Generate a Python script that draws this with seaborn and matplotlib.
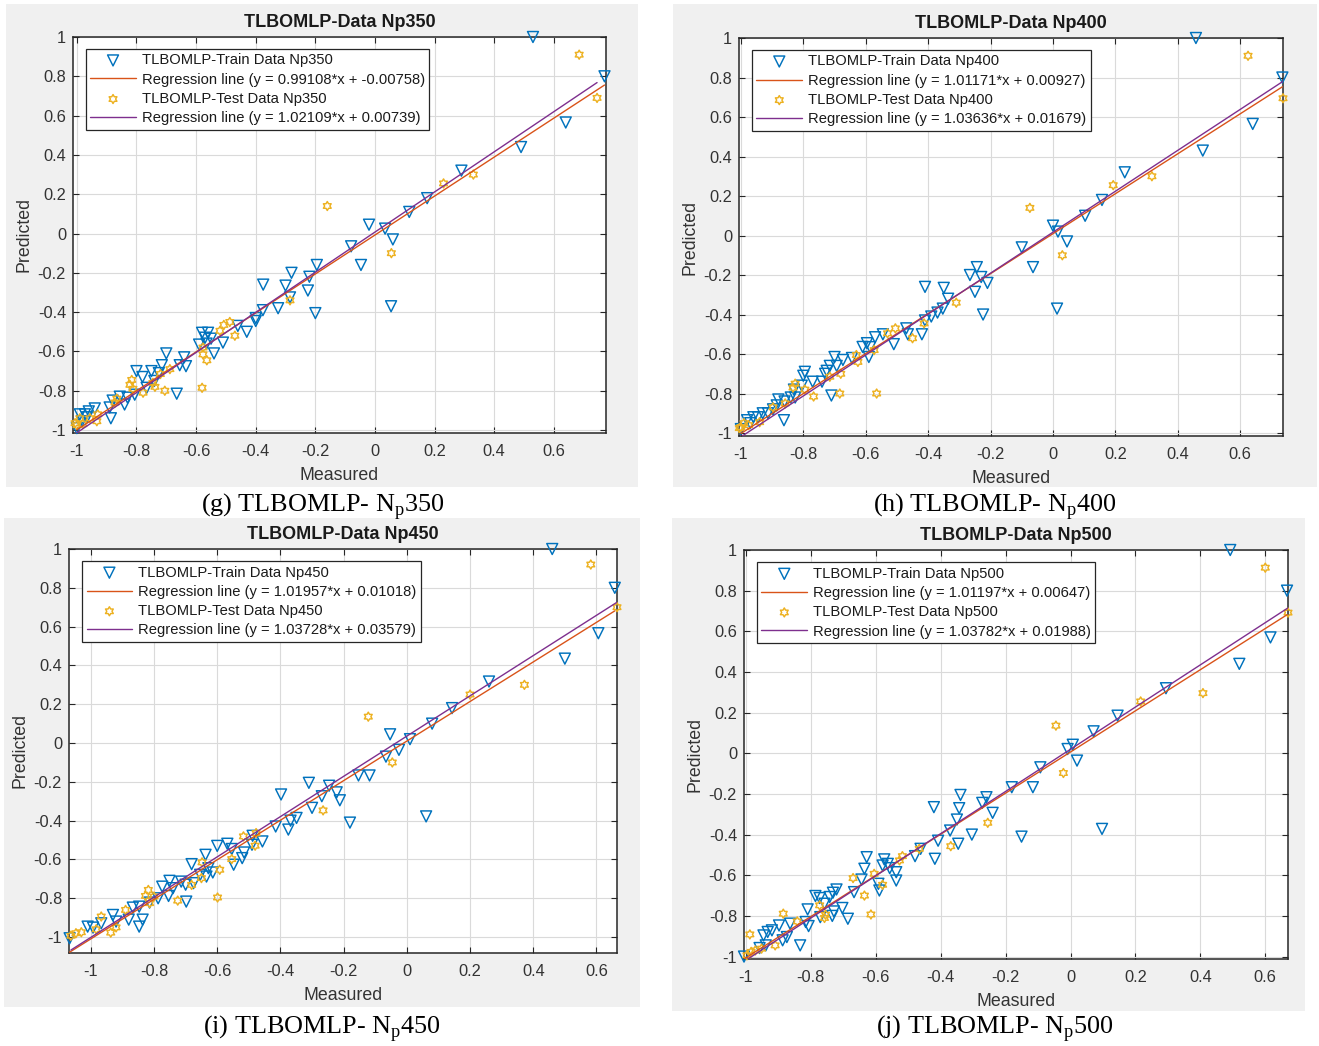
import numpy as np
import pandas as pd
import matplotlib
matplotlib.use("Agg")
import matplotlib.pyplot as plt
from matplotlib.patches import Rectangle
from matplotlib.path import Path
import seaborn as sns

# ---------------------------------------------------------------- data
# Np350
g_train_x = [0.53, 0.77, 0.64, 0.49, 0.29, 0.175, 0.115, 0.034, -0.02, 0.06, -0.08, -0.047, 0.054,
             -0.20, -0.195, -0.28, -0.30, -0.375, -0.225, -0.22, -0.285, -0.325, -0.376, -0.40, -0.40,
             -0.43, -0.46, -0.51, -0.54, -0.565, -0.58, -0.56, -0.59, -0.55, -0.57, -0.70, -0.64,
             -0.655, -0.634, -0.715, -0.725, -0.75, -0.80, -0.78, -0.74, -0.665, -0.766, -0.806,
             -0.83, -0.856, -0.88, -0.84, -0.89, -0.886, -0.94, -0.96, -0.973, -0.99, -0.983, -1.0,
             -0.966]
g_train_y = [1.0, 0.80, 0.565, 0.44, 0.32, 0.18, 0.11, 0.025, 0.045, -0.03, -0.065, -0.16, -0.37,
             -0.405, -0.16, -0.20, -0.265, -0.26, -0.29, -0.22, -0.325, -0.38, -0.39, -0.43, -0.445,
             -0.50, -0.47, -0.555, -0.61, -0.56, -0.505, -0.505, -0.565, -0.535, -0.53, -0.61, -0.63,
             -0.67, -0.675, -0.67, -0.71, -0.70, -0.70, -0.73, -0.75, -0.815, -0.785, -0.82,
             -0.835, -0.83, -0.85, -0.87, -0.885, -0.94, -0.89, -0.905, -0.92, -0.92, -0.955, -0.99,
             -0.935]
g_test_x = [0.685, 0.745, 0.33, 0.23, -0.16, 0.055, -0.285, -0.487, -0.507, -0.52, -0.47, -0.577,
            -0.564, -0.577, -0.58, -0.705, -0.688, -0.738, -0.745, -0.816, -0.822, -0.812, -0.778,
            -0.866, -0.872, -0.933, -0.956, -1.006, -1.0, -0.98, -0.99, -0.93, -0.72]
g_test_y = [0.91, 0.69, 0.30, 0.255, 0.14, -0.10, -0.34, -0.45, -0.465, -0.495, -0.52, -0.615,
            -0.645, -0.58, -0.785, -0.80, -0.69, -0.78, -0.76, -0.745, -0.77, -0.79, -0.81,
            -0.84, -0.86, -0.955, -0.94, -0.965, -0.975, -0.97, -0.94, -0.92, -0.715]
g_fit_train = (0.99108, -0.00758)
g_fit_test = (1.02109, 0.00739)

# Np400
h_train_x = [0.458, 0.735, 0.64, 0.48, 0.23, 0.157, 0.103, 0.0, 0.016, 0.045, -0.1, -0.064, 0.013,
             -0.244, -0.266, -0.23, -0.21, -0.25, -0.224, -0.41, -0.35, -0.336, -0.353, -0.37, -0.39,
             -0.41, -0.42, -0.465, -0.47, -0.51, -0.545, -0.57, -0.586, -0.59, -0.61, -0.596, -0.644,
             -0.673, -0.70, -0.693, -0.715, -0.73, -0.725, -0.74, -0.77, -0.795, -0.80, -0.71, -0.805,
             -0.83, -0.826, -0.84, -0.86, -0.88, -0.885, -0.862, -0.897, -0.913, -0.93, -0.945, -0.96,
             -0.98, -0.97, -1.0]
h_train_y = [1.0, 0.80, 0.565, 0.43, 0.32, 0.18, 0.10, 0.05, 0.02, -0.03, -0.06, -0.16, -0.37,
             -0.16, -0.20, -0.21, -0.24, -0.285, -0.40, -0.26, -0.265, -0.32, -0.37, -0.39, -0.41,
             -0.43, -0.50, -0.50, -0.47, -0.55, -0.50, -0.515, -0.565, -0.615, -0.564, -0.545, -0.62,
             -0.63, -0.615, -0.66, -0.66, -0.70, -0.685, -0.74, -0.74, -0.69, -0.71, -0.81, -0.76,
             -0.78, -0.82, -0.82, -0.84, -0.83, -0.86, -0.935, -0.88, -0.90, -0.90, -0.92, -0.92,
             -0.935, -0.95, -0.98]
h_test_x = [0.625, 0.737, 0.317, 0.193, -0.074, 0.03, -0.31, -0.413, -0.45, -0.505, -0.53, -0.565,
            -0.573, -0.63, -0.625, -0.68, -0.683, -0.767, -0.795, -0.826, -0.833, -0.715, -0.858,
            -0.897, -0.94, -0.975, -1.0, -0.99, -1.005]
h_test_y = [0.91, 0.695, 0.30, 0.255, 0.14, -0.10, -0.34, -0.445, -0.52, -0.47, -0.495, -0.80,
            -0.58, -0.605, -0.64, -0.70, -0.80, -0.815, -0.78, -0.75, -0.77, -0.715, -0.85,
            -0.87, -0.945, -0.96, -0.97, -0.95, -0.975]
h_fit_train = (1.01171, 0.00927)
h_fit_test = (1.03636, 0.01679)

# Np450
i_train_x = [0.46, 0.658, 0.606, 0.50, 0.26, 0.143, 0.08, 0.01, -0.053, -0.025, -0.066, -0.153,
             -0.118, -0.31, -0.246, -0.398, -0.269, -0.222, -0.212, -0.30, -0.18, 0.061, -0.349,
             -0.368, -0.415, -0.375, -0.457, -0.488, -0.49, -0.568, -0.60, -0.515, -0.521, -0.554,
             -0.548, -0.637, -0.681, -0.628, -0.614, -0.654, -0.634, -0.675, -0.70, -0.714, -0.751,
             -0.774, -0.74, -0.754, -0.698, -0.787, -0.814, -0.847, -0.867, -0.88, -0.836, -0.847,
             -0.93, -0.92, -0.967, -1.01, -0.993, -1.067]
i_train_y = [1.0, 0.80, 0.566, 0.435, 0.317, 0.18, 0.10, 0.02, 0.045, -0.035, -0.07, -0.167,
             -0.167, -0.205, -0.22, -0.265, -0.274, -0.254, -0.295, -0.334, -0.41, -0.378, -0.386,
             -0.40, -0.43, -0.446, -0.507, -0.478, -0.524, -0.519, -0.53, -0.564, -0.593, -0.546,
             -0.627, -0.576, -0.624, -0.645, -0.667, -0.679, -0.688, -0.722, -0.73, -0.714, -0.71,
             -0.74, -0.748, -0.788, -0.817, -0.80, -0.822, -0.843, -0.848, -0.91, -0.91, -0.946,
             -0.886, -0.92, -0.929, -0.946, -0.951, -1.006]
i_test_x = [0.582, 0.665, 0.372, 0.20, -0.122, -0.046, -0.265, -0.477, -0.517, -0.48, -0.554,
            -0.592, -0.599, -0.648, -0.65, -0.681, -0.725, -0.818, -0.827, -0.80, -0.814, -0.89,
            -0.967, -0.983, -0.937, -0.92, -1.03, -1.063, -1.047]
i_test_y = [0.92, 0.70, 0.30, 0.25, 0.136, -0.10, -0.347, -0.464, -0.481, -0.529, -0.598,
            -0.653, -0.796, -0.615, -0.696, -0.731, -0.812, -0.757, -0.788, -0.791, -0.825, -0.86,
            -0.894, -0.96, -0.977, -0.95, -0.975, -0.993, -0.98]
i_fit_train = (1.01957, 0.01018)
i_fit_test = (1.03728, 0.03579)

# Np500
j_train_x = [0.492, 0.667, 0.616, 0.52, 0.294, 0.145, 0.071, 0.007, -0.009, 0.02, -0.093, -0.181,
             -0.116, -0.339, -0.259, -0.272, -0.24, -0.421, -0.343, -0.35, -0.371, -0.304, -0.151,
             0.097, -0.408, -0.346, -0.462, -0.418, -0.479, -0.628, -0.635, -0.574, -0.563, -0.557,
             -0.579, -0.537, -0.537, -0.592, -0.589, -0.667, -0.644, -0.721, -0.732, -0.786, -0.773,
             -0.742, -0.758, -0.703, -0.729, -0.81, -0.771, -0.686, -0.734, -0.816, -0.807, -0.864,
             -0.898, -0.92, -0.933, -0.946, -0.874, -0.887, -0.833, -0.939, -0.958, -1.006]
j_train_y = [1.0, 0.80, 0.57, 0.44, 0.32, 0.185, 0.108, 0.042, 0.021, -0.036, -0.069, -0.167,
             -0.167, -0.205, -0.216, -0.244, -0.293, -0.265, -0.27, -0.326, -0.38, -0.40, -0.41,
             -0.372, -0.43, -0.445, -0.47, -0.519, -0.506, -0.511, -0.568, -0.522, -0.544, -0.565,
             -0.552, -0.585, -0.626, -0.642, -0.675, -0.683, -0.621, -0.67, -0.686, -0.702, -0.712,
             -0.707, -0.74, -0.761, -0.778, -0.768, -0.806, -0.814, -0.80, -0.83, -0.85, -0.838,
             -0.847, -0.871, -0.879, -0.896, -0.904, -0.92, -0.945, -0.945, -0.958, -1.0]
j_test_x = [0.60, 0.67, 0.408, 0.216, -0.045, -0.022, -0.255, -0.369, -0.466, -0.518, -0.527,
            -0.605, -0.579, -0.67, -0.635, -0.615, -0.773, -0.755, -0.758, -0.842, -0.885, -0.988,
            -0.91, -0.952, -0.984, -0.997, -0.971]
j_test_y = [0.913, 0.692, 0.296, 0.255, 0.136, -0.097, -0.342, -0.457, -0.47, -0.506, -0.527,
            -0.593, -0.647, -0.614, -0.70, -0.793, -0.748, -0.794, -0.81, -0.827, -0.789, -0.891,
            -0.945, -0.961, -0.977, -0.994, -0.97]
j_fit_train = (1.01197, 0.00647)
j_fit_test = (1.03782, 0.01988)

tick_values = [-1, -0.8, -0.6, -0.4, -0.2, 0, 0.2, 0.4, 0.6, 0.8, 1]
tick_labels = ["-1", "-0.8", "-0.6", "-0.4", "-0.2", "0", "0.2", "0.4", "0.6", "0.8", "1"]

# ---------------------------------------------------------------- style
sns.set_theme(style="white", context="notebook")
plt.rcParams["font.family"] = ["Liberation Sans", "DejaVu Sans"]
plt.rcParams["axes.unicode_minus"] = False
plt.rcParams["mathtext.fontset"] = "custom"
plt.rcParams["mathtext.rm"] = "Liberation Serif"

BLUE = "#0072BD"
ORANGE = "#D95319"
YELLOW = "#EDB120"
PURPLE = "#7E2F8E"
INK = "#262626"

# six-pointed star marker
_ang = np.deg2rad(90 + np.arange(12) * 30)
_rad = np.where(np.arange(12) % 2 == 0, 1.0, 1 / np.sqrt(3))
_verts = np.column_stack([_rad * np.cos(_ang), _rad * np.sin(_ang)])
HEXAGRAM = Path(np.vstack([_verts, _verts[:1]]), closed=True)

W, H = 1319, 1046
fig = plt.figure(figsize=(W / 100, H / 100), dpi=100)
fig.patch.set_facecolor("white")


def fig_box(l, t, r, b):
    return [l / W, 1 - b / H, (r - l) / W, (b - t) / H]


panels = [
    dict(tag="g", np_=350, tx=g_train_x, ty=g_train_y, sx=g_test_x, sy=g_test_y,
         ft=g_fit_train, fs=g_fit_test, bg=(6, 4, 638, 487), ax=(73, 37, 606, 433),
         xlim=(-1.013, 0.775), ylim=(-1.015, 1.0), cap=(323, 507)),
    dict(tag="h", np_=400, tx=h_train_x, ty=h_train_y, sx=h_test_x, sy=h_test_y,
         ft=h_fit_train, fs=h_fit_test, bg=(673, 4, 1317, 487), ax=(739, 38, 1283, 436),
         xlim=(-1.006, 0.737), ylim=(-1.015, 1.0), cap=(995, 507)),
    dict(tag="i", np_=450, tx=i_train_x, ty=i_train_y, sx=i_test_x, sy=i_test_y,
         ft=i_fit_train, fs=i_fit_test, bg=(4, 518, 640, 1007), ax=(69, 549, 617, 953),
         xlim=(-1.069, 0.665), ylim=(-1.082, 1.0), cap=(322, 1029)),
    dict(tag="j", np_=500, tx=j_train_x, ty=j_train_y, sx=j_test_x, sy=j_test_y,
         ft=j_fit_train, fs=j_fit_test, bg=(672, 518, 1305, 1011), ax=(744, 550, 1288, 959),
         xlim=(-1.006, 0.67), ylim=(-1.012, 1.0), cap=(995, 1029)),
]


def fmt_fit(a, b):
    return f"Regression line (y = {a:.5f}*x + {b:.5f})"


for p in panels:
    l, t, r, b = p["bg"]
    fig.patches.append(Rectangle((l / W, 1 - b / H), (r - l) / W, (b - t) / H,
                                 transform=fig.transFigure, facecolor="#f0f0f0",
                                 edgecolor="none", zorder=-5))
    ax = fig.add_axes(fig_box(*p["ax"]))
    ax.set_zorder(2)
    ax.set_facecolor("white")
    ax.set_axisbelow(True)

    train = pd.DataFrame({"Measured": p["tx"], "Predicted": p["ty"]})
    test = pd.DataFrame({"Measured": p["sx"], "Predicted": p["sy"]})

    a_tr, b_tr = p["ft"]
    a_te, b_te = p["fs"]
    xr_tr = np.array([train["Measured"].min(), train["Measured"].max()])
    xr_te = np.array([test["Measured"].min(), test["Measured"].max()])

    sns.scatterplot(data=train, x="Measured", y="Predicted", ax=ax, marker="v", s=62,
                    fc="none", ec=BLUE, linewidth=1.05, zorder=3, clip_on=False,
                    label=f"TLBOMLP-Train Data Np{p['np_']}")
    sns.lineplot(x=xr_tr, y=a_tr * xr_tr + b_tr, ax=ax, color=ORANGE, linewidth=1.0,
                 sort=False, estimator=None, zorder=4, label=fmt_fit(a_tr, b_tr))
    sns.scatterplot(data=test, x="Measured", y="Predicted", ax=ax, marker=HEXAGRAM, s=42,
                    fc="none", ec=YELLOW, linewidth=1.05, zorder=3, clip_on=False,
                    label=f"TLBOMLP-Test Data Np{p['np_']}")
    sns.lineplot(x=xr_te, y=a_te * xr_te + b_te, ax=ax, color=PURPLE, linewidth=1.0,
                 sort=False, estimator=None, zorder=4, label=fmt_fit(a_te, b_te))

    ax.set_xticks(tick_values)
    ax.set_xticklabels(tick_labels)
    ax.set_yticks(tick_values)
    ax.set_yticklabels(tick_labels)
    ax.set_xlim(*p["xlim"])
    ax.set_ylim(*p["ylim"])

    ax.grid(True, color="#dadada", linewidth=0.8)
    for s in ax.spines.values():
        s.set_color(INK)
        s.set_linewidth(1.1)
        s.set_visible(True)
    ax.tick_params(axis="both", direction="in", length=4, width=0.8, color=INK,
                   labelcolor="#333333", labelsize=11.8, top=True, right=True,
                   bottom=True, left=True)
    ax.tick_params(axis="x", pad=8)
    ax.tick_params(axis="y", pad=5)

    ax.set_title(f"TLBOMLP-Data Np{p['np_']}", fontsize=13.0, fontweight="bold",
                 color="#1a1a1a", pad=7)
    ax.set_xlabel("Measured", fontsize=12.8, color="#333333", labelpad=6)
    ax.set_ylabel("Predicted", fontsize=12.8, color="#333333", labelpad=4)

    handles, labels = ax.get_legend_handles_labels()
    leg = ax.legend(handles, labels, loc="upper left", bbox_to_anchor=(0.024, 0.97),
                    borderaxespad=0, frameon=True, fancybox=False, framealpha=1,
                    edgecolor=INK, facecolor="white", fontsize=10.6, handlelength=3.1,
                    handletextpad=0.4, labelspacing=0.36, borderpad=0.3,
                    scatterpoints=1)
    leg.get_frame().set_linewidth(0.9)
    leg.set_zorder(6)
    for txt in leg.get_texts():
        txt.set_color("#1a1a1a")

    cx, cy = p["cap"]
    fig.text(cx / W, 1 - cy / H, f"({p['tag']}) TLBOMLP- N$_\\mathregular{{p}}${p['np_']}",
             ha="center", va="center", fontsize=18.8, family="Liberation Serif",
             color="black")

fig.savefig("out.png", dpi=100, facecolor="white")
